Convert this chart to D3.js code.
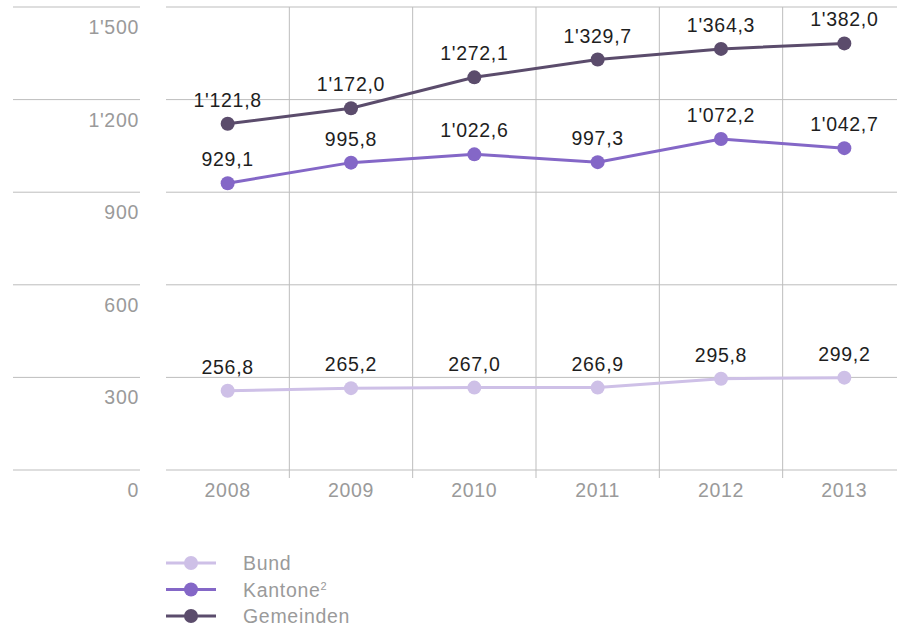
<!DOCTYPE html>
<html><head><meta charset="utf-8">
<script src="https://cdn.jsdelivr.net/npm/d3@7/dist/d3.min.js"></script>
<style>body{margin:0;background:#fff}svg{display:block}text{font-family:"Liberation Sans",Arial,sans-serif;letter-spacing:0.7px}</style>
</head><body><svg id="c" width="897" height="627"></svg>
<script>
const years = ["2008","2009","2010","2011","2012","2013"];
const bund = [256.8, 265.2, 267.0, 266.9, 295.8, 299.2];
const kantone = [929.1, 995.8, 1022.6, 997.3, 1072.2, 1042.7];
const gemeinden = [1121.8, 1172.0, 1272.1, 1329.7, 1364.3, 1382.0];
const yTicks = [0, 300, 600, 900, 1200, 1500];
const seriesNames = ["Bund", "Kantone", "Gemeinden"];
const colors = ["#cec0e7", "#8467c7", "#5b4c6c"];

const svg = d3.select("#c");
const x = d3.scaleBand().domain(years).range([166, 906]);
const y = d3.scaleLinear().domain([0, 1500]).range([470, 7]);
const FS = 19.5;
const fmt = v => {
  const s = v.toFixed(1).replace(".", ",");
  const [i, d] = s.split(",");
  return i.replace(/\B(?=(\d{3})+(?!\d))/g, "'") + "," + d;
};
const fmtTick = v => String(v).replace(/\B(?=(\d{3})+(?!\d))/g, "'");

const g = svg.append("g");
yTicks.forEach(t => {
  g.append("line").attr("x1", 13).attr("x2", 140).attr("y1", y(t)).attr("y2", y(t)).attr("stroke", "#bdbdbd").attr("stroke-width", 1);
  g.append("line").attr("x1", 166).attr("x2", 897).attr("y1", y(t)).attr("y2", y(t)).attr("stroke", "#bdbdbd").attr("stroke-width", 1);
  g.append("text").attr("x", 139).attr("y", y(t) + 27).attr("text-anchor", "end").attr("font-size", FS).attr("fill", "#9a9a9a").text(fmtTick(t));
});
years.slice(1).forEach(yr => {
  g.append("line").attr("x1", x(yr)).attr("x2", x(yr)).attr("y1", 7).attr("y2", 478).attr("stroke", "#bdbdbd").attr("stroke-width", 1);
});
years.forEach(yr => {
  g.append("text").attr("x", x(yr) + x.bandwidth()/2).attr("y", 497).attr("text-anchor", "middle").attr("font-size", FS).attr("fill", "#9a9a9a").text(yr);
});

const data = [bund, kantone, gemeinden];
const line = d3.line().x((d, i) => x(years[i]) + x.bandwidth()/2).y(d => y(d));
data.forEach((vals, si) => {
  svg.append("path").attr("d", line(vals)).attr("fill", "none").attr("stroke", colors[si]).attr("stroke-width", 3);
  svg.selectAll(null).data(vals).enter().append("circle")
    .attr("cx", (d, i) => x(years[i]) + x.bandwidth()/2).attr("cy", d => y(d)).attr("r", 7).attr("fill", colors[si]);
  svg.selectAll(null).data(vals).enter().append("text")
    .attr("x", (d, i) => x(years[i]) + x.bandwidth()/2).attr("y", d => y(d) - 17)
    .attr("text-anchor", "middle").attr("font-size", FS).attr("fill", "#1e1e1e").text(d => fmt(d));
});

seriesNames.forEach((n, i) => {
  const ly = 563 + i * 26.5;
  svg.append("line").attr("x1", 166).attr("x2", 216).attr("y1", ly).attr("y2", ly).attr("stroke", colors[i]).attr("stroke-width", 3);
  svg.append("circle").attr("cx", 191).attr("cy", ly).attr("r", 7).attr("fill", colors[i]);
  const t = svg.append("text").attr("x", 243).attr("y", ly + 7).attr("font-size", FS).attr("fill", "#9a9a9a").text(n);
  if (n === "Kantone") t.append("tspan").attr("font-size", 11).attr("dy", -7).text("2");
});
</script></body></html>
